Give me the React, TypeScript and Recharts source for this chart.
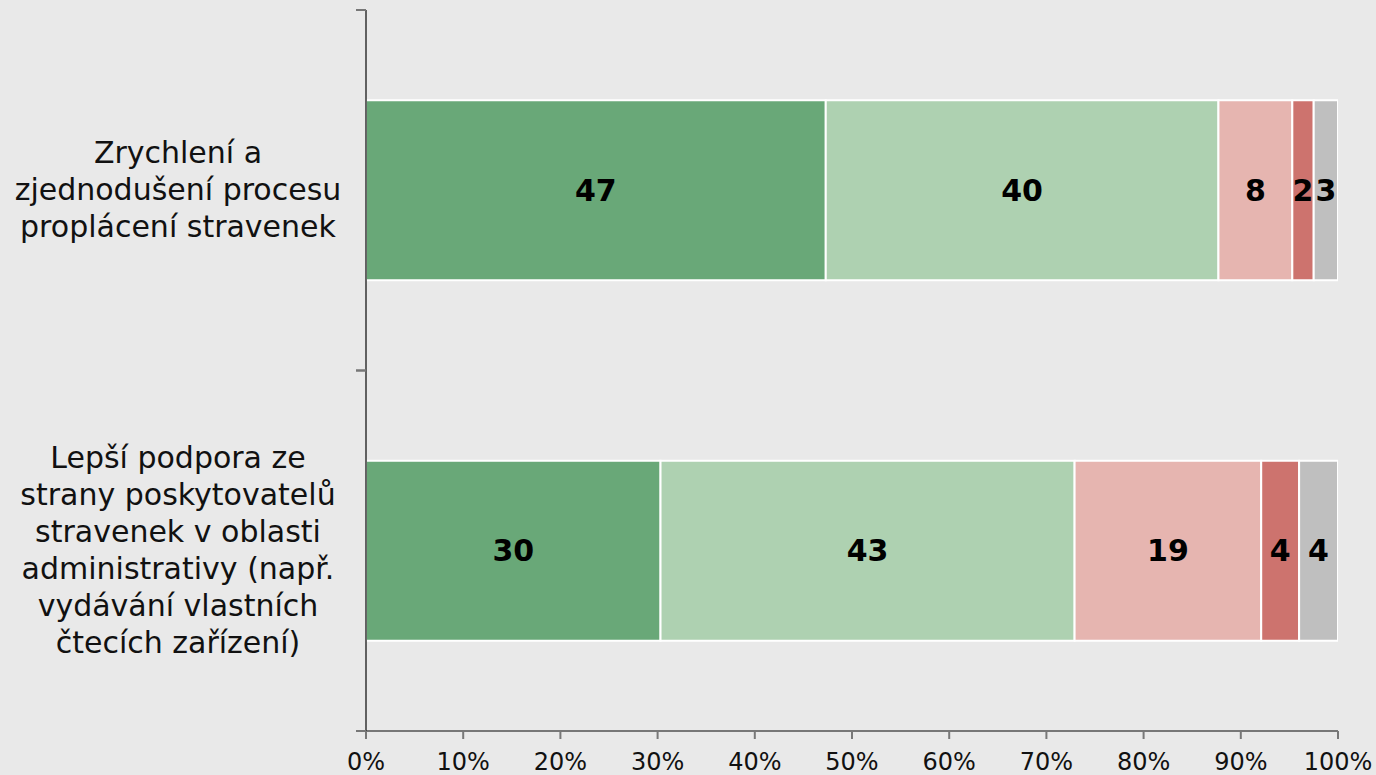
import { BarChart, Bar, XAxis, YAxis, LabelList } from 'recharts';

// categories (line breaks as in the original labels)
const categories = [
  'Zrychlení a\nzjednodušení procesu\nproplácení stravenek',
  'Lepší podpora ze\nstrany poskytovatelů\nstravenek v oblasti\nadministrativy (např.\nvydávání vlastních\nčtecích zařízení)',
];

const seriesNames = ['Rozhodně ano', 'Spíše ano', 'Spíše ne', 'Rozhodně ne', 'Neví'];
const rozhodneAno = [47.3, 30.3];
const spiseAno = [40.4, 42.6];
const spiseNe = [7.6, 19.2];
const rozhodneNe = [2.2, 3.9];
const nevi = [2.5, 4.0];

const xTicks = [0, 10, 20, 30, 40, 50, 60, 70, 80, 90, 100];

const COLORS = ['#69a878', '#aed1b1', '#e6b5b0', '#cd736e', '#bfbfbf'];
const KEYS = ['s0', 's1', 's2', 's3', 's4'];

const data = categories.map((name, i) => ({
  name,
  s0: rozhodneAno[i],
  s1: spiseAno[i],
  s2: spiseNe[i],
  s3: rozhodneNe[i],
  s4: nevi[i],
}));

const W = 1376;
const H = 775;
const MARGIN = { top: 10, right: 38, bottom: 0, left: 0 };
const Y_AXIS_W = 366;
const X_AXIS_H = 44;
const BAND = (H - MARGIN.top - MARGIN.bottom - X_AXIS_H) / categories.length;
const LABEL_X = 178;
const LINE_H = 37;
const FONT = '"DejaVu Sans", Verdana, sans-serif';

function CategoryTick({ y, payload }: any) {
  const lines = String(payload.value).split('\n');
  const ax = MARGIN.left + Y_AXIS_W;
  const half = BAND / 2;
  return (
    <g>
      <line x1={ax - 10} x2={ax} y1={y - half} y2={y - half} stroke="#777" strokeWidth={2} />
      <line x1={ax - 10} x2={ax} y1={y + half} y2={y + half} stroke="#777" strokeWidth={2} />
      <text x={LABEL_X} y={y} textAnchor="middle" fontSize={30} fill="#111" fontFamily={FONT}>
        {lines.map((l, i) => (
          <tspan key={i} x={LABEL_X} dy={i === 0 ? -((lines.length - 1) / 2) * LINE_H + 10 : LINE_H}>
            {l}
          </tspan>
        ))}
      </text>
    </g>
  );
}

export default function App() {
  return (
    <div style={{ position: 'absolute', top: 0, left: 0, width: W, height: H, background: '#e9e9e9', fontFamily: FONT }}>
      <BarChart width={W} height={H} data={data} layout="vertical" margin={MARGIN} barCategoryGap="25%">
        <XAxis
          type="number"
          domain={[0, 100]}
          ticks={xTicks}
          tickFormatter={(v) => `${v}%`}
          height={X_AXIS_H}
          tickSize={8}
          tickMargin={14}
          axisLine={{ stroke: '#777', strokeWidth: 2 }}
          tickLine={{ stroke: '#777', strokeWidth: 2 }}
          tick={{ fill: '#111', fontSize: 24, fontFamily: FONT }}
          interval={0}
          allowDataOverflow
        />
        <YAxis
          type="category"
          dataKey="name"
          width={Y_AXIS_W}
          tickSize={0}
          tickMargin={0}
          tickLine={false}
          axisLine={{ stroke: '#333', strokeWidth: 1.5 }}
          tick={<CategoryTick />}
          interval={0}
        />
        {KEYS.map((k, i) => (
          <Bar
            key={k}
            dataKey={k}
            name={seriesNames[i]}
            stackId="a"
            fill={COLORS[i]}
            stroke="#ffffff"
            strokeWidth={2}
            isAnimationActive={false}
          >
            <LabelList
              dataKey={k}
              position="center"
              formatter={(v: any) => Math.round(Number(v))}
              fill="#000"
              fontSize={30}
              fontWeight="bold"
              fontFamily={FONT}
            />
          </Bar>
        ))}
      </BarChart>
    </div>
  );
}
